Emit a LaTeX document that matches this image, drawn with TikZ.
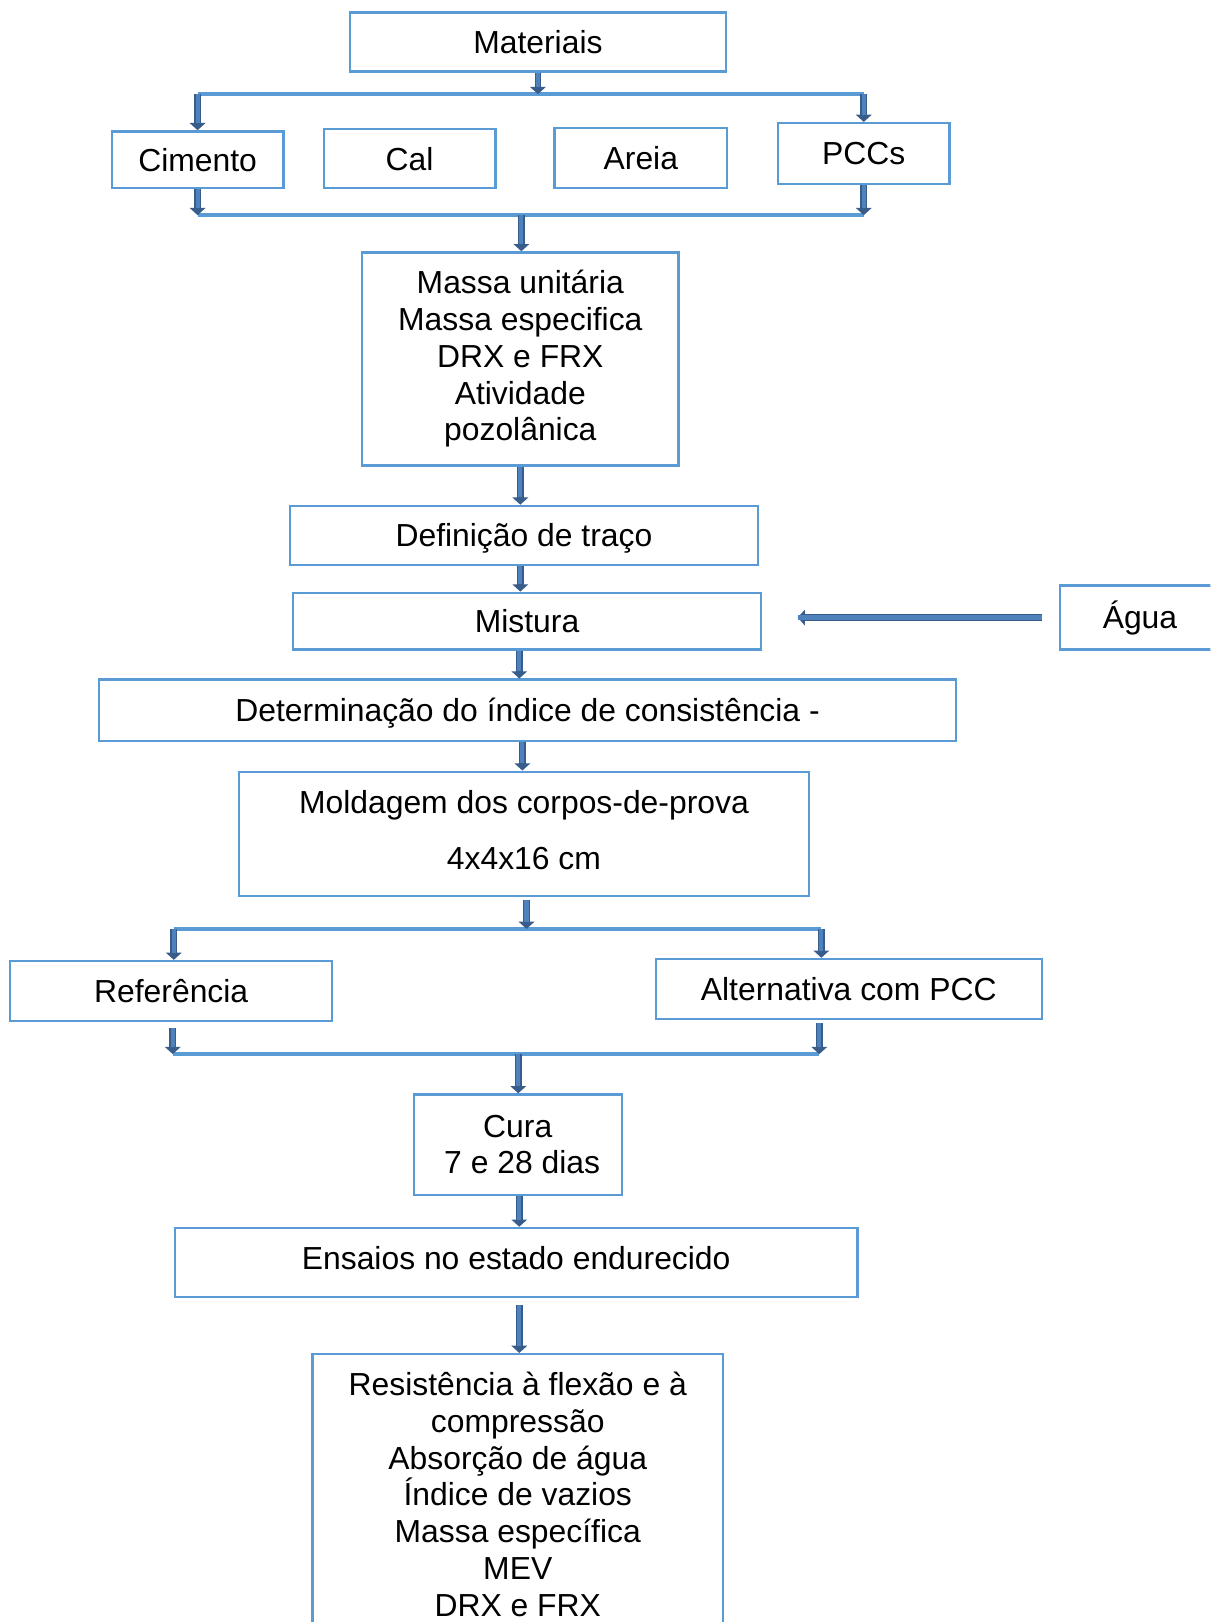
\documentclass[tikz,border=0pt]{standalone}
\usepackage{fontspec}
\setmainfont{Liberation Sans}
\usetikzlibrary{arrows.meta}
\definecolor{boxcol}{RGB}{91,155,213}
\definecolor{arrdark}{RGB}{56,93,138}
\definecolor{arrmid}{RGB}{79,129,189}
\definecolor{barcol}{RGB}{91,155,213}
\newcommand\fsz{\fontsize{30.8}{35.5}\selectfont}
\tikzset{
  box/.style={draw=boxcol, line width=2.2pt, inner sep=0pt, font=\fsz, align=center},
  onebox/.style={box, text height=22pt, text depth=0pt},
  arrout/.style={draw=arrdark, line width=6.5pt, -{Triangle[length=7pt,width=15pt]}},
  arrin/.style={draw=arrmid, line width=4pt, shorten >=7pt},
  hbar/.style={draw=barcol, line width=4pt},
}
\begin{document}
\begin{tikzpicture}[x=1pt,y=-1pt]
\useasboundingbox (0,0) rectangle (1170,1568);
\clip (0,0) rectangle (1170,1568);
\fill[white] (0,0) rectangle (1170,1568);

% boxes
\node[onebox, minimum width=364pt, minimum height=57pt] (mat) at (520,40.5) {Materiais};
\node[onebox, minimum width=166pt, minimum height=55pt] (cim) at (191,154.5) {Cimento};
\node[onebox, minimum width=166pt, minimum height=57pt] (cal) at (396,153.5) {Cal};
\node[onebox, minimum width=167pt, minimum height=58pt] (are) at (619.5,153) {Areia};
\node[onebox, minimum width=166pt, minimum height=59pt] (pcc) at (835,148.5) {PCCs};
\node[box, minimum width=306pt, minimum height=206pt] (massa) at (503,347) {Massa unitária\\Massa especifica\\DRX e FRX\\Atividade\\pozolânica};
\node[onebox, minimum width=453pt, minimum height=57pt] (def) at (506.5,517.5) {Definição de traço};
\node[onebox, minimum width=453pt, minimum height=55pt] (mis) at (509.5,600.5) {Mistura};
\node[onebox, minimum width=154pt, minimum height=62pt] (agua) at (1102,597) {Água};
\node[onebox, minimum width=828pt, minimum height=59pt] (det) at (510,686.5) {Determinação do índice de consistência -};
\node[box, minimum width=551pt, minimum height=120pt] (mol) at (506.5,806) {Moldagem dos corpos-de-prova\\[18.5pt]4x4x16 cm\rule[-8pt]{0pt}{8pt}};
\node[onebox, minimum width=311pt, minimum height=58pt] (ref) at (165.5,958) {Referência};
\node[onebox, minimum width=373pt, minimum height=58pt] (alt) at (820.5,956) {Alternativa com PCC};
\node[box, minimum width=201pt, minimum height=97pt] (cura) at (500.5,1106.5) {Cura\\\ 7 e 28 dias};
\node[box, text height=22pt, text depth=9pt, minimum width=660pt, minimum height=67pt] (ens) at (499,1220.5) {Ensaios no estado endurecido};
\node[box, minimum width=397pt, minimum height=271pt] (res) at (500.5,1444.5) {Resistência à flexão e à\\compressão\\Absorção de água\\Índice de vazios\\Massa específica\\MEV\\DRX e FRX};

% junction coordinates
\coordinate (b1L) at (191,91);
\coordinate (b1R) at (835,91);
\coordinate (b1M) at (520,91);
\coordinate (b2L) at (191,208);
\coordinate (b2R) at (835,208);
\coordinate (b2M) at (504,208);
\coordinate (b3L) at (168,898);
\coordinate (b3R) at (794,898);
\coordinate (b3M) at (509,898);
\coordinate (b4L) at (167,1019);
\coordinate (b4R) at (792,1019);
\coordinate (b4M) at (501,1019);

% bars
\draw[hbar] (b1L) -- (b1R);
\draw[hbar] (b2L) -- (b2R);
\draw[hbar] (b3L) -- (b3R);
\draw[hbar] (b4L) -- (b4R);

% arrows
\foreach \s in {arrout,arrin}{
  \draw[\s] (mat.south) -- (mat.south |- b1M);
  \draw[\s] (b1L) -- (cim.north);
  \draw[\s] (b1R) -- (pcc.north);
  \draw[\s] (cim.south) -- (cim.south |- b2L);
  \draw[\s] (pcc.south) -- (pcc.south |- b2R);
  \draw[\s] (b2M) -- (b2M |- massa.north);
  \draw[\s] (massa.south) -- (massa.south |- def.north);
  \draw[\s] ([xshift=-3.5pt]def.south) -- ([xshift=-3.5pt]def.south |- mis.north);
  \draw[\s, shorten <=17pt, shorten >=34pt] (agua.west) -- (mis.east |- agua.west);
  \draw[\s] ([xshift=-7.5pt]mis.south) -- ([xshift=-7.5pt]mis.south |- det.north);
  \draw[\s] ([xshift=-5pt]det.south) -- ([xshift=-5pt]det.south |- mol.north);
  \draw[\s, shorten <=3pt] ([xshift=2.5pt]mol.south) -- ([xshift=2.5pt]mol.south |- b3M);
  \draw[\s] (b3L) -- (b3L |- ref.north);
  \draw[\s] (b3R) -- (b3R |- alt.north);
  \draw[\s, shorten <=6pt] ([xshift=1.5pt]ref.south) -- ([xshift=1.5pt]ref.south |- b4L);
  \draw[\s, shorten <=3pt] ([xshift=-28.5pt]alt.south) -- ([xshift=-28.5pt]alt.south |- b4R);
  \draw[\s] (b4M) -- (b4M |- cura.north);
  \draw[\s] ([xshift=1.5pt]cura.south) -- ([xshift=1.5pt]cura.south |- ens.north);
  \draw[\s, shorten <=6pt] ([xshift=3pt]ens.south) -- ([xshift=3pt]ens.south |- res.north);
}
\end{tikzpicture}
\end{document}
